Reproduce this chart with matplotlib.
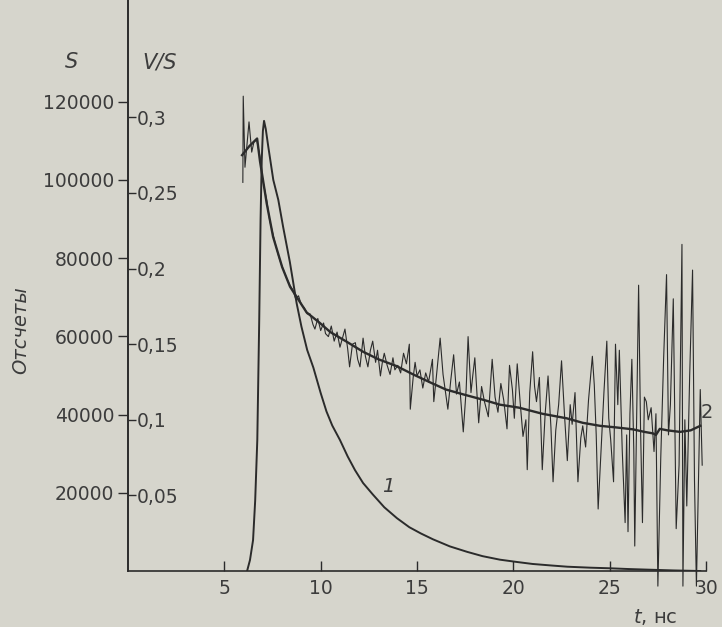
import matplotlib

matplotlib.use("Agg")
import matplotlib.pyplot as plt

BG = "#d6d5cc"
INK = "#2b2b2b"
TXT = "#3c3c3c"

# curve 1: counts S (left axis)
C1_T = [6.18, 6.33, 6.49, 6.6, 6.71, 6.81, 6.88, 6.94, 7.0, 7.06, 7.15, 7.28, 7.54, 7.8,
        8.05, 8.4, 8.75, 9.0, 9.3, 9.62, 10.0, 10.3, 10.6, 11.0, 11.4, 11.78, 12.2, 12.7,
        13.3, 13.96, 14.6, 15.2, 15.83, 16.7, 17.6, 18.4, 19.3, 20.2, 21.0, 22.0, 22.8,
        24.0, 25.0, 26.0, 27.1, 28.3, 29.7]
C1_S = [0, 2800, 7900, 18000, 33500, 64200, 89800, 105000, 112500, 115100, 113000, 108500,
        100000, 94900, 88000, 79000, 68500, 62500, 56500, 52000, 45500, 40800, 37200, 33500,
        29300, 25800, 22500, 19600, 16300, 13500, 11200, 9600, 8100, 6300, 4900, 3800, 2900,
        2300, 1800, 1400, 1100, 850, 700, 500, 330, 150, 0]

# curve 2: smoothed V/S (right scale)
C2_T = [5.92, 6.3, 6.7, 6.85, 7.2, 7.53, 8.0, 8.41, 9.27, 9.96, 10.5, 11.3, 12.2, 13.0,
        13.94, 14.8, 15.67, 16.5, 17.4, 18.5, 19.3, 20.3, 21.5, 22.76, 23.6, 24.5, 25.3,
        26.2, 26.8, 27.25, 27.4, 27.6, 28.0, 28.65, 29.2, 29.7]
C2_V = [0.275, 0.281, 0.286, 0.271, 0.243, 0.221, 0.201, 0.188, 0.171, 0.164, 0.158, 0.152,
        0.145, 0.140, 0.1355, 0.130, 0.1248, 0.120, 0.1168, 0.113, 0.110, 0.108, 0.104,
        0.101, 0.098, 0.096, 0.095, 0.0937, 0.092, 0.091, 0.090, 0.094, 0.093, 0.092,
        0.093, 0.096]

# raw V/S record
RAW_T = [5.96, 5.98, 6.07, 6.28, 6.42, 6.54, 6.68, 6.85, 6.99, 7.2, 7.35, 7.5, 7.65, 7.8,
         7.95, 8.1, 8.25, 8.4, 8.55, 8.7, 8.85, 9.0, 9.15, 9.3, 9.45, 9.6, 9.7, 9.85, 10.0,
         10.15, 10.25, 10.4, 10.55, 10.7, 10.85, 11.0, 11.15, 11.26, 11.4, 11.5, 11.65, 11.8,
         11.92, 12.04, 12.2, 12.32, 12.45, 12.58, 12.7, 12.85, 12.95, 13.1, 13.2, 13.3, 13.45,
         13.6, 13.75, 13.85, 14.0, 14.15, 14.3, 14.45, 14.6, 14.65, 14.8, 14.9, 15.0, 15.15,
         15.3, 15.45, 15.6, 15.8, 15.87, 16.0, 16.2, 16.35, 16.45, 16.6, 16.75, 16.9, 17.05,
         17.2, 17.4, 17.55, 17.65, 17.8, 17.9, 18.0, 18.2, 18.35, 18.5, 18.7, 18.9, 19.05,
         19.2, 19.35, 19.5, 19.67, 19.8, 19.95, 20.05, 20.2, 20.35, 20.5, 20.65, 20.72, 20.85,
         21.0, 21.1, 21.2, 21.35, 21.5, 21.65, 21.8, 21.95, 22.06, 22.2, 22.35, 22.5, 22.65,
         22.8, 22.95, 23.05, 23.2, 23.35, 23.5, 23.6, 23.75, 23.9, 24.1, 24.2, 24.3, 24.4,
         24.55, 24.7, 24.85, 24.95, 25.05, 25.2, 25.3, 25.42, 25.5, 25.65, 25.8, 25.88, 25.95,
         26.05, 26.15, 26.25, 26.3, 26.5, 26.6, 26.7, 26.8, 26.9, 27.0, 27.15, 27.3, 27.4,
         27.5, 27.65, 27.8, 27.95, 28.05, 28.15, 28.3, 28.45, 28.6, 28.75, 28.8, 28.9, 29.0,
         29.15, 29.3, 29.4, 29.5, 29.6, 29.7, 29.8]
RAW_V = [0.257, 0.314, 0.267, 0.297, 0.277, 0.284, 0.285, 0.274, 0.259, 0.245, 0.232, 0.224,
         0.216, 0.209, 0.203, 0.198, 0.193, 0.189, 0.186, 0.180, 0.182, 0.176, 0.174, 0.170,
         0.170, 0.163, 0.160, 0.167, 0.159, 0.164, 0.157, 0.155, 0.162, 0.152, 0.158, 0.148,
         0.155, 0.160, 0.147, 0.135, 0.150, 0.151, 0.140, 0.135, 0.154, 0.142, 0.135, 0.146,
         0.152, 0.138, 0.146, 0.129, 0.138, 0.144, 0.136, 0.130, 0.141, 0.133, 0.136, 0.131,
         0.144, 0.137, 0.150, 0.107, 0.128, 0.138, 0.129, 0.133, 0.121, 0.131, 0.125, 0.140,
         0.112, 0.128, 0.154, 0.130, 0.121, 0.107, 0.126, 0.143, 0.117, 0.125, 0.092, 0.120,
         0.155, 0.118, 0.130, 0.141, 0.098, 0.122, 0.112, 0.102, 0.140, 0.115, 0.105, 0.124,
         0.113, 0.094, 0.136, 0.120, 0.101, 0.137, 0.112, 0.089, 0.100, 0.067, 0.118, 0.145,
         0.122, 0.112, 0.128, 0.067, 0.104, 0.129, 0.095, 0.059, 0.093, 0.110, 0.139, 0.104,
         0.073, 0.110, 0.097, 0.118, 0.059, 0.088, 0.096, 0.082, 0.113, 0.142, 0.123, 0.090,
         0.041, 0.080, 0.118, 0.152, 0.101, 0.087, 0.059, 0.150, 0.110, 0.146, 0.080, 0.032,
         0.090, 0.026, 0.104, 0.140, 0.080, 0.0165, 0.189, 0.095, 0.032, 0.115, 0.112, 0.100,
         0.108, 0.079, 0.104, -0.010, 0.075, 0.141, 0.196, 0.090, 0.110, 0.180, 0.028, 0.070,
         0.216, -0.010, 0.100, 0.043, 0.129, 0.199, 0.060, -0.010, 0.055, 0.120, 0.070]

S_TICKS = [20000, 40000, 60000, 80000, 100000, 120000]
VS_TICKS = [0.05, 0.1, 0.15, 0.2, 0.25, 0.3]
VS_LABELS = ["0,05", "0,1", "0,15", "0,2", "0,25", "0,3"]
T_TICKS = [5, 10, 15, 20, 25, 30]

plt.rcParams["font.family"] = ["DejaVu Sans"]
plt.rcParams["mathtext.fontset"] = "dejavusans"

fig = plt.figure(figsize=(7.22, 6.27), dpi=100, facecolor=BG)
ax = fig.add_axes([0.1773, 0.0893, 0.8006, 0.9107])
ax.set_facecolor("none")
ax2 = ax.twinx()
ax2.set_facecolor("none")

for s in ["top", "right"]:
    ax.spines[s].set_visible(False)
for s in ["left", "bottom"]:
    ax.spines[s].set_linewidth(1.2)
    ax.spines[s].set_color(INK)
for s in ["top", "left", "bottom"]:
    ax2.spines[s].set_visible(False)
ax2.spines["right"].set_position(("axes", 0))
ax2.spines["right"].set_color(INK)
ax2.spines["right"].set_linewidth(1.2)

ax.set_xlim(0, 30)
ax.set_ylim(0, 146000)
ax2.set_ylim(0, 0.3776)

ax.set_xticks(T_TICKS)
ax.set_xticklabels([str(v) for v in T_TICKS])
ax.set_yticks(S_TICKS)
ax.set_yticklabels([str(v) for v in S_TICKS])
ax2.set_yticks(VS_TICKS)
ax2.set_yticklabels(VS_LABELS)

ax.tick_params(axis="x", direction="in", length=7, width=1, pad=6,
               labelsize=13.5, colors=INK, labelcolor=TXT)
ax.tick_params(axis="y", direction="out", length=7, width=1, pad=3,
               labelsize=13.5, colors=INK, labelcolor=TXT)
ax2.tick_params(axis="y", direction="out", length=5.5, width=1, pad=1,
                labelsize=13.5, colors=INK, labelcolor=TXT)

ax.plot(C1_T, C1_S, color=INK, lw=1.4, zorder=3)
ax2.plot(RAW_T, RAW_V, color=INK, lw=0.8, clip_on=False, zorder=2)
ax2.plot(C2_T, C2_V, color=INK, lw=1.7, zorder=4)

ax.text(13.5, 21500, "1", fontsize=14, style="italic", color=TXT, ha="center", va="center")
ax2.text(30.05, 0.105, "2", fontsize=14, color=TXT, ha="center", va="center", clip_on=False)

fig.text(0.0997, 0.901, "S", fontsize=15, style="italic", color=TXT, ha="center", va="center")
fig.text(0.2216, 0.901, "V/S", fontsize=15, style="italic", color=TXT, ha="center", va="center")
fig.text(0.029, 0.4737, "Отсчеты", fontsize=14, style="italic", color=TXT,
         rotation=90, ha="center", va="center")
fig.text(0.907, 0.016, "$t$, нс", fontsize=14, color=TXT, ha="center", va="center")

fig.savefig("out.png", dpi=100, facecolor=BG)
